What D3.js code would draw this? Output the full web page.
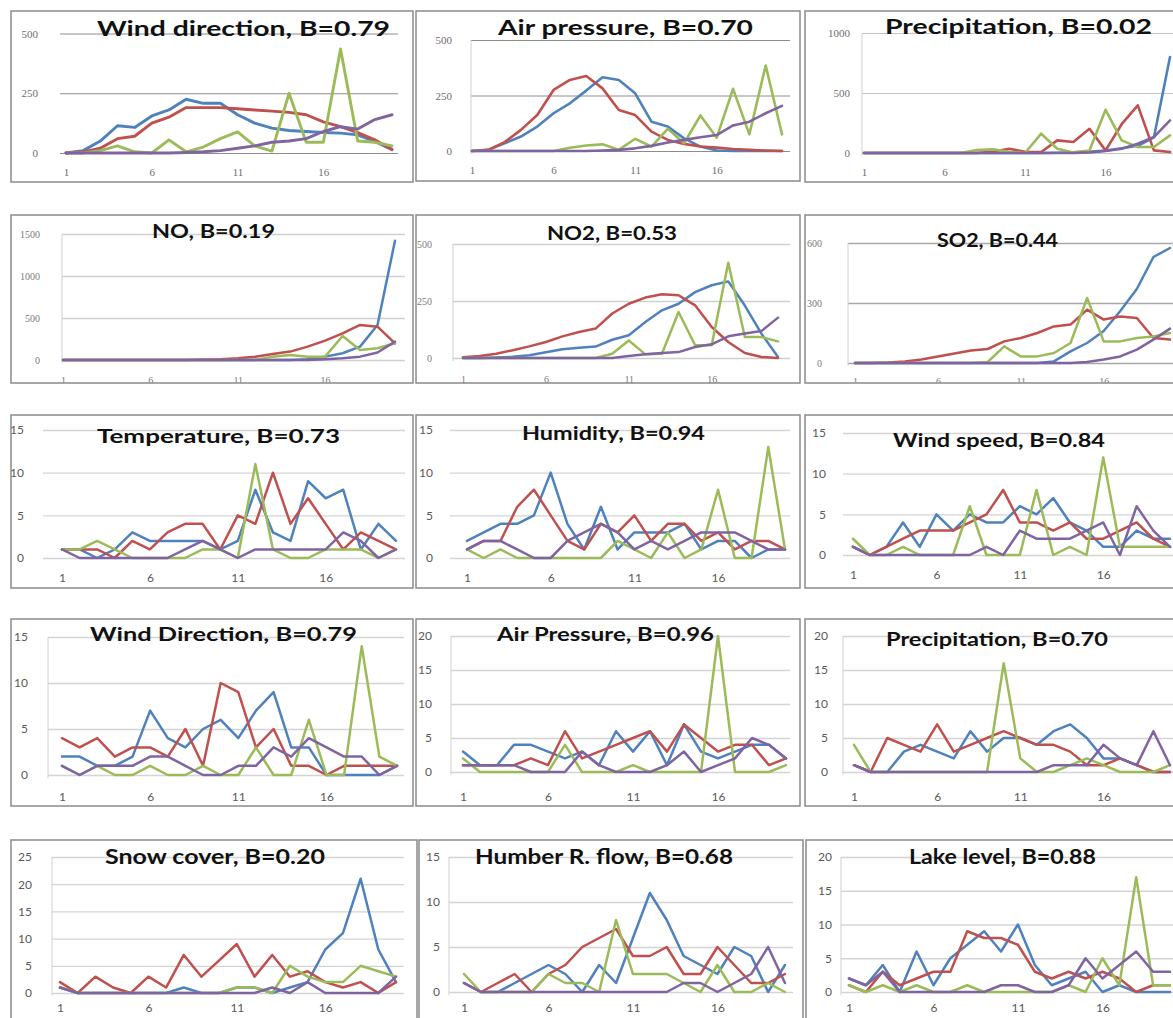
<!DOCTYPE html>
<html><head><meta charset="utf-8">
<script src="https://cdn.jsdelivr.net/npm/d3@7"></script>
<style>body{margin:0;background:#fff}svg{display:block}</style>
</head><body>
<svg id="c" width="1173" height="1018"></svg>
<script>
// ---------------- DATA ----------------
const categories = [1,2,3,4,5,6,7,8,9,10,11,12,13,14,15,16,17,18,19,20];
const xTickValues = [1,6,11,16];
const seriesColors = ["#4F81BD","#C0504D","#9BBB59","#8064A2"];

const panelTitles = [
  "Wind direction, B=0.79","Air pressure, B=0.70","Precipitation, B=0.02",
  "NO, B=0.19","NO2, B=0.53","SO2, B=0.44",
  "Temperature, B=0.73","Humidity, B=0.94","Wind speed, B=0.84",
  "Wind Direction, B=0.79","Air Pressure, B=0.96","Precipitation, B=0.70",
  "Snow cover, B=0.20","Humber R. flow, B=0.68","Lake level, B=0.88"
];

const yTicks = [
  [0,250,500],[0,250,500],[0,500,1000],
  [0,500,1000,1500],[0,250,500],[0,300,600],
  [0,5,10,15],[0,5,10,15],[0,5,10,15],
  [0,5,10,15],[0,5,10,15,20],[0,5,10,15,20],
  [0,5,10,15,20,25],[0,5,10,15],[0,5,10,15,20]
];

// each panel: [blue, red, green, purple]
const windDirection1 = [
  [0,10,50,114,107,155,180,225,208,208,160,125,104,94,90,86,83,76,48,14],
  [0,5,20,60,70,125,150,190,190,190,185,180,175,170,160,130,110,85,55,15],
  [0,0,10,30,5,0,55,5,25,60,88,30,8,250,45,45,435,50,45,30],
  [0,0,0,0,0,0,0,2,5,10,20,30,45,50,60,90,110,100,140,160]
];
const airPressure1 = [
  [0,5,35,65,110,170,215,272,332,320,260,132,110,57,20,2,0,0,0,0],
  [0,5,40,95,162,275,320,338,282,185,162,87,50,32,20,15,9,5,2,0],
  [0,0,0,0,0,0,15,25,30,5,55,20,100,35,160,60,280,75,385,75],
  [0,0,0,0,0,0,0,0,2,5,12,23,38,50,62,72,115,132,170,203]
];
const precipitation1 = [
  [0,0,0,0,0,0,0,0,0,0,0,0,2,5,10,20,40,60,130,800],
  [0,0,0,0,0,0,0,0,10,36,10,8,105,92,202,22,240,397,22,8],
  [0,0,0,0,0,0,0,25,30,10,0,161,36,5,20,360,105,50,50,147],
  [0,0,0,0,0,0,0,0,0,0,0,0,0,0,5,17,36,78,133,272]
];
const noLevels = [
  [0,0,0,0,0,0,0,0,0,0,0,0,0,0,10,40,80,159,417,1420],
  [0,0,0,0,0,0,0,0,5,10,20,40,71,100,159,230,317,417,397,198],
  [0,0,0,0,0,0,0,0,0,0,0,0,40,60,40,40,286,119,140,200],
  [0,0,0,0,0,0,0,0,0,0,0,0,0,0,0,10,20,40,90,218]
];
const no2Levels = [
  [0,0,2,5,12,25,38,45,50,80,100,158,209,238,289,319,336,230,107,4],
  [3,9,19,34,51,70,95,114,129,195,238,265,280,275,231,136,70,22,4,0],
  [0,0,0,0,0,0,0,0,0,19,77,16,19,202,56,56,418,92,92,73],
  [0,0,0,0,0,0,0,0,0,0,9,16,22,26,48,60,95,107,118,177]
];
const so2Levels = [
  [0,0,0,0,0,0,0,0,0,0,0,0,8,58,100,160,260,370,530,575],
  [0,0,3,8,17,33,47,62,70,108,125,150,183,192,267,217,233,225,125,117],
  [0,0,0,0,0,0,0,0,5,83,33,33,50,100,325,108,108,125,133,150],
  [0,0,0,0,0,0,0,0,0,0,0,0,0,0,5,17,33,67,117,172]
];
const temperature = [
  [1,1,0,1,3,2,2,2,2,1,2,8,3,2,9,7,8,1,4,2],
  [1,1,1,0,2,1,3,4,4,1,5,4,10,4,7,4,1,3,2,1],
  [1,1,2,1,0,0,0,0,1,1,0,11,1,0,0,1,1,1,0,1],
  [1,0,0,0,0,0,0,1,2,1,0,1,1,1,1,1,3,2,0,1]
];
const humidity = [
  [2,3,4,4,5,10,4,1,6,1,3,3,3,4,1,2,2,0,1,1],
  [1,2,2,6,8,5,2,1,4,3,5,2,4,4,2,3,1,2,2,1],
  [1,0,1,0,0,0,0,0,0,2,1,0,3,0,1,8,0,0,13,1],
  [1,2,2,1,0,0,2,3,4,3,1,2,1,2,3,3,3,2,1,1]
];
const windSpeed = [
  [1,0,1,4,1,5,3,5,4,4,6,5,7,4,3,1,1,3,2,2],
  [1,0,1,2,3,3,3,4,5,8,4,4,3,4,2,2,3,4,2,1],
  [2,0,0,1,0,0,0,6,0,0,0,8,0,1,0,12,1,1,1,1],
  [1,0,0,0,0,0,0,0,1,0,3,2,2,2,3,4,0,6,3,1]
];
const windDirection2 = [
  [2,2,1,1,2,7,4,3,5,6,4,7,9,3,3,0,0,0,0,1],
  [4,3,4,2,3,3,2,5,1,10,9,3,5,1,1,0,1,1,1,1],
  [1,0,1,0,0,1,0,0,1,0,0,3,0,0,6,0,0,14,2,1],
  [1,0,1,1,1,2,2,1,0,0,1,1,3,2,4,3,2,2,0,1]
];
const airPressure2 = [
  [3,1,1,4,4,3,2,3,1,6,3,6,1,7,3,2,3,4,4,2],
  [1,1,1,1,2,1,6,2,3,4,5,6,3,7,5,3,4,4,1,2],
  [2,0,0,0,0,0,4,0,0,0,1,0,0,0,0,20,0,0,0,1],
  [1,1,1,1,0,0,0,3,1,0,0,0,1,3,0,1,2,5,4,2]
];
const precipitation2 = [
  [1,0,0,3,4,3,2,6,3,5,5,4,6,7,5,2,2,1,0,0],
  [1,0,5,4,3,7,3,4,5,6,5,4,4,3,1,1,2,1,0,0],
  [4,0,0,0,0,0,0,0,0,16,2,0,0,1,2,1,0,0,0,1],
  [1,0,0,0,0,0,0,0,0,0,0,0,1,1,1,4,2,1,6,1]
];
const snowCover = [
  [1,0,0,0,0,0,0,1,0,0,1,1,0,1,2,8,11,21,8,2],
  [2,0,3,1,0,3,1,7,3,6,9,3,7,3,4,2,1,2,0,2],
  [1,0,0,0,0,0,0,0,0,0,1,1,0,5,3,2,2,5,4,3],
  [1,0,0,0,0,0,0,0,0,0,0,0,1,0,2,0,0,0,0,3]
];
const humberFlow = [
  [1,0,0,1,2,3,2,0,3,1,6,11,8,4,3,2,5,4,0,3],
  [1,0,1,2,0,2,3,5,6,7,4,4,5,2,2,5,3,1,1,2],
  [2,0,0,0,0,2,1,1,0,8,2,2,2,1,0,3,0,0,1,0],
  [1,0,0,0,0,0,0,0,0,0,0,0,0,1,1,0,1,2,5,1]
];
const lakeLevel = [
  [2,1,4,0,6,1,5,7,9,6,10,4,1,2,3,0,1,0,0,0],
  [1,0,3,1,2,3,3,9,8,8,7,3,2,3,2,3,2,0,1,1],
  [1,0,1,0,1,0,0,1,0,0,0,0,0,1,0,5,1,17,1,1],
  [2,1,3,0,0,0,0,0,0,1,1,0,0,1,5,2,4,6,3,3]
];

const panelData = [windDirection1, airPressure1, precipitation1, noLevels, no2Levels, so2Levels,
  temperature, humidity, windSpeed, windDirection2, airPressure2, precipitation2,
  snowCover, humberFlow, lakeLevel];

// ---------------- LAYOUT ----------------
const SERIF = "'Liberation Serif','DejaVu Serif',serif";
const SANS = "Lato,'Open Sans','Liberation Sans',sans-serif";
const layouts = [
  {box:[11,11,413,182], ax:60,  gr:398,  y0:153, yT:33.5, x1:66,  x20:392,  lr:38,  xl:172, tx:[97,390],  tb:36,  tf:20, lw:2.9, gc:"#8c8c8c", vax:false, tfont:SERIF, tfs:11, tcol:"#6e6e6e"},
  {box:[416,11,800,181],ax:471, gr:790,  y0:151, yT:40,   x1:472, x20:782,  lr:452, xl:170, tx:[498,753], tb:35,  tf:20, lw:2.6, gc:"#8c8c8c", vax:true,  tfont:SERIF, tfs:11, tcol:"#6e6e6e"},
  {box:[805,11,1178,182],ax:862,gr:1173, y0:153, yT:33,   x1:864, x20:1170, lr:850, xl:172, tx:[885,1152],tb:34,  tf:20, lw:2.6, gc:"#c4c4c4", vax:true,  tfont:SERIF, tfs:11, tcol:"#6e6e6e"},
  {box:[11,215,413,383],ax:62,  gr:405,  y0:360, yT:234,  x1:63,  x20:395,  lr:40,  xl:380, tx:[152,275], tb:238, tf:18, lw:2.5, gc:"#d0d0d0", vax:true,  tfont:SERIF, tfs:10, tcol:"#7a7a7a"},
  {box:[416,215,800,383],ax:453,gr:790,  y0:358, yT:244,  x1:463, x20:778,  lr:432, xl:379, tx:[547,677], tb:240, tf:18, lw:2.5, gc:"#d0d0d0", vax:true,  tfont:SERIF, tfs:10, tcol:"#7a7a7a"},
  {box:[805,215,1178,383],ax:848,gr:1173,y0:363, yT:243,  x1:855, x20:1170, lr:822, xl:381, tx:[937,1058],tb:247, tf:18, lw:2.5, gc:"#a8a8a8", vax:true,  tfont:SERIF, tfs:10, tcol:"#7a7a7a"},
  {box:[11,415,413,588],ax:43,  gr:405,  y0:558, yT:430,  x1:62,  x20:396,  lr:24,  xl:578, tx:[97,340],  tb:443, tf:18, lw:2.5, gc:"#d4d4d4", vax:false, tfont:SANS, tfs:12, tcol:"#595959"},
  {box:[416,415,800,588],ax:450,gr:790,  y0:558, yT:430,  x1:467, x20:785,  lr:433, xl:578, tx:[522,705], tb:440, tf:18, lw:2.5, gc:"#d4d4d4", vax:false, tfont:SANS, tfs:12, tcol:"#595959"},
  {box:[805,415,1178,588],ax:843,gr:1173,y0:555, yT:433,  x1:853, x20:1170, lr:826, xl:575, tx:[893,1105],tb:447, tf:18, lw:2.5, gc:"#d4d4d4", vax:false, tfont:SANS, tfs:12, tcol:"#595959"},
  {box:[11,619,413,806],ax:48,  gr:404,  y0:775, yT:637,  x1:62,  x20:397,  lr:28,  xl:797, tx:[90,357],  tb:641, tf:19, lw:2.5, gc:"#d4d4d4", vax:true,  tfont:SANS, tfs:12, tcol:"#595959"},
  {box:[416,619,800,806],ax:451,gr:790,  y0:772, yT:636,  x1:463, x20:786,  lr:432, xl:797, tx:[497,714], tb:641, tf:19, lw:2.5, gc:"#d4d4d4", vax:true,  tfont:SANS, tfs:12, tcol:"#595959"},
  {box:[805,619,1178,806],ax:843,gr:1173,y0:772, yT:636,  x1:854, x20:1170, lr:828, xl:797, tx:[886,1108],tb:646, tf:19, lw:2.5, gc:"#d4d4d4", vax:true,  tfont:SANS, tfs:12, tcol:"#595959"},
  {box:[11,840,417,1030],ax:52, gr:404,  y0:993, yT:857,  x1:60,  x20:396,  lr:32,  xl:1008,tx:[105,325], tb:864, tf:20, lw:2.5, gc:"#d4d4d4", vax:true,  tfont:SANS, tfs:12, tcol:"#595959"},
  {box:[419,840,803,1030],ax:449,gr:793, y0:992, yT:857,  x1:464, x20:785,  lr:440, xl:1008,tx:[475,733], tb:864, tf:20, lw:2.5, gc:"#d4d4d4", vax:true,  tfont:SANS, tfs:12, tcol:"#595959"},
  {box:[806,840,1178,1030],ax:841,gr:1173,y0:992,yT:857,  x1:849, x20:1170, lr:832, xl:1008,tx:[909,1096],tb:864, tf:20, lw:2.5, gc:"#d4d4d4", vax:true,  tfont:SANS, tfs:12, tcol:"#595959"}
];

// ---------------- DRAW ----------------
const svg = d3.select("#c");
const defs = svg.append("defs");
const plainFormat = d3.format("d");

panelData.forEach((series, i) => {
  const L = layouts[i];
  const [bl, bt, br, bb] = L.box;
  defs.append("clipPath").attr("id", "clip" + i)
    .append("rect").attr("x", bl).attr("y", bt).attr("width", br - bl).attr("height", bb - bt);

  const g = svg.append("g").attr("clip-path", `url(#clip${i})`);
  g.append("rect").attr("x", bl).attr("y", bt).attr("width", br - bl).attr("height", bb - bt).attr("fill", "#fff");

  const ticks = yTicks[i];
  const x = d3.scalePoint().domain(categories).range([L.x1, L.x20]);
  const y = d3.scaleLinear().domain([0, ticks[ticks.length - 1]]).range([L.y0, L.yT]);

  // gridlines
  g.append("g").attr("transform", `translate(${L.ax},0)`)
    .call(d3.axisLeft(y).tickValues(ticks).tickSize(-(L.gr - L.ax)).tickFormat(""))
    .call(s => {
      s.select(".domain").remove();
      s.selectAll(".tick line").attr("stroke", L.gc).attr("stroke-width", i < 3 ? 1 : 1.3);
    });
  if (L.vax) {
    g.append("line").attr("x1", L.ax).attr("x2", L.ax).attr("y1", L.yT).attr("y2", L.y0 + 3)
      .attr("stroke", "#d0d0d0").attr("stroke-width", 1);
  }

  // y labels
  g.append("g").attr("transform", `translate(${L.ax},0)`)
    .call(d3.axisLeft(y).tickValues(ticks).tickSize(0).tickPadding(L.ax - L.lr).tickFormat(plainFormat))
    .call(s => {
      s.select(".domain").remove();
      s.selectAll("text").attr("font-family", L.tfont).attr("font-size", L.tfs).attr("fill", L.tcol);
    });

  // x labels
  g.append("g").attr("transform", `translate(0,${L.y0})`)
    .call(d3.axisBottom(x).tickValues(xTickValues).tickSize(0)
      .tickPadding(L.xl - L.y0 - 0.36 * L.tfs))
    .call(s => {
      s.select(".domain").remove();
      s.selectAll("text").attr("font-family", L.tfont).attr("font-size", L.tfs).attr("fill", L.tcol);
    });

  // lines
  const line = d3.line().x((d, j) => x(categories[j])).y(d => y(d));
  series.forEach((vals, k) => {
    g.append("path").datum(vals).attr("d", line)
      .attr("fill", "none").attr("stroke", seriesColors[k])
      .attr("stroke-width", L.lw).attr("stroke-linejoin", "round").attr("stroke-linecap", "round");
  });

  // title
  g.append("text").attr("x", L.tx[0]).attr("y", L.tb)
    .attr("font-family", "Lato,'Open Sans','Liberation Sans',sans-serif")
    .attr("font-weight", "bold").attr("font-size", L.tf).attr("fill", "#111")
    .attr("textLength", L.tx[1] - L.tx[0]).attr("lengthAdjust", "spacingAndGlyphs")
    .text(panelTitles[i]);

  // border
  svg.append("rect").attr("x", bl).attr("y", bt).attr("width", br - bl).attr("height", bb - bt)
    .attr("fill", "none").attr("stroke", "#8a8a8a").attr("stroke-width", 1.5);
});
</script>
</body></html>
